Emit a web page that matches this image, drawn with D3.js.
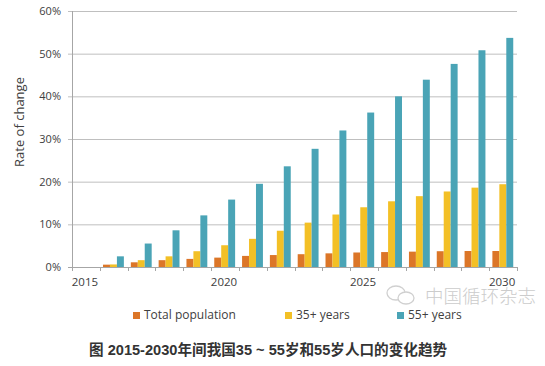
<!DOCTYPE html>
<html><head><meta charset="utf-8">
<script src="https://cdn.jsdelivr.net/npm/d3@7"></script>
<style>body{margin:0;background:#fff}svg{display:block}</style>
</head><body>
<svg id="c" width="545" height="366"></svg>
<script>
const years = ["2015","2016","2017","2018","2019","2020","2021","2022","2023","2024","2025","2026","2027","2028","2029","2030"];
const totalPop = [0,0.55,1.1,1.6,1.9,2.2,2.6,2.8,3.0,3.2,3.4,3.5,3.6,3.7,3.75,3.75];
const age35 = [0,0.6,1.6,2.5,3.7,5.1,6.6,8.5,10.4,12.3,14.0,15.4,16.6,17.7,18.6,19.4];
const age55 = [0,2.5,5.5,8.6,12.1,15.8,19.5,23.6,27.7,32.0,36.2,40.0,43.9,47.6,50.8,53.7];
const seriesNames = ["Total population","35+ years","55+ years"];
const colors = ["#dc7628","#f3c026","#4aa4b6"];
const yTicks = [0,10,20,30,40,50,60];
const xLabels = ["2015","2020","2025","2030"];
const caption = "图 2015-2030年间我国35 ~ 55岁和55岁人口的变化趋势";
const watermark = "中国循环杂志";

const svg = d3.select("#c");
const font = "'Open Sans', 'Liberation Sans', sans-serif";
const L=72, R=517, T=11, B=267;
const x = d3.scaleBand().domain(years).range([L,R]).paddingInner(0).paddingOuter(0);
const y = d3.scaleLinear().domain([0,60]).range([B,T]);
const inner = d3.scaleBand().domain([0,1,2]).range([0,x.bandwidth()]).paddingOuter(0.5).paddingInner(0).align(0.46);

// gridlines
svg.append("g").selectAll("line").data(yTicks.filter(d=>d>0)).join("line")
  .attr("x1",L-4).attr("x2",R).attr("y1",d=>y(d)+0.5).attr("y2",d=>y(d)+0.5)
  .attr("stroke","#bfbfbf").attr("stroke-width",1);
svg.append("line").attr("x1",L-4).attr("x2",L).attr("y1",y(0)+0.5).attr("y2",y(0)+0.5).attr("stroke","#a6a6a6");
// y labels
svg.append("g").selectAll("text").data(yTicks).join("text")
  .attr("x",L-11).attr("y",d=>y(d)+4).attr("text-anchor","end")
  .attr("font-family",font).attr("font-size","11px").attr("fill","#404040")
  .text(d=>d+"%");
// y axis line
svg.append("line").attr("x1",L+0.5).attr("x2",L+0.5).attr("y1",T).attr("y2",B).attr("stroke","#a6a6a6");

// bars
const series = [totalPop, age35, age55];
series.forEach((vals,si)=>{
  svg.append("g").selectAll("rect").data(years.map((yr,i)=>({yr,v:vals[i]})).filter(d=>d.v>0)).join("rect")
    .attr("x",d=>x(d.yr)+inner(si)).attr("width",inner.bandwidth())
    .attr("y",d=>y(d.v)).attr("height",d=>y(0)-y(d.v))
    .attr("fill",colors[si]);
});

// x axis
svg.append("line").attr("x1",L).attr("x2",R).attr("y1",B+0.5).attr("y2",B+0.5).attr("stroke","#a6a6a6");
const bounds = years.map(d=>x(d)).concat([R]);
svg.append("g").selectAll("line").data(bounds).join("line")
  .attr("x1",d=>Math.round(d)+0.5).attr("x2",d=>Math.round(d)+0.5).attr("y1",B).attr("y2",B+4)
  .attr("stroke","#a6a6a6");
svg.append("g").selectAll("text").data(xLabels).join("text")
  .attr("x",d=>x(d)+x.bandwidth()/2-1).attr("y",286).attr("text-anchor","middle")
  .attr("font-family",font).attr("font-size","11.5px").attr("fill","#404040").text(d=>d);

// y title
svg.append("text").attr("transform","translate(24,122) rotate(-90)").attr("text-anchor","middle")
  .attr("font-family",font).attr("font-size","13px").attr("fill","#404040").text("Rate of change");

// legend
const legX = [133,285,397];
const lg = svg.append("g").selectAll("g").data(seriesNames).join("g")
  .attr("transform",(d,i)=>`translate(${legX[i]},0)`);
lg.append("rect").attr("x",0).attr("y",312).attr("width",7).attr("height",7).attr("fill",(d,i)=>colors[i]);
lg.append("text").attr("x",11).attr("y",319).attr("font-family",font).attr("font-size","12px").attr("fill","#404040").text(d=>d);

// watermark
const wm = svg.append("g").attr("fill","none").attr("stroke","#d0d0d0").attr("stroke-width",1.3);
wm.append("ellipse").attr("cx",396).attr("cy",293).attr("rx",9).attr("ry",7);
wm.append("ellipse").attr("cx",406).attr("cy",298).attr("rx",8).attr("ry",6).attr("fill","#fff");
svg.append("text").attr("x",425).attr("y",303).attr("font-family","'Noto Sans CJK SC', sans-serif")
  .attr("font-size","18.5px").attr("fill","#cccccc").attr("font-weight","300").text(watermark);

// caption
svg.append("text").attr("x",89).attr("y",355).attr("font-family","'Liberation Sans', 'Noto Sans CJK SC', sans-serif")
  .attr("font-size","14.6px").attr("font-weight","bold").attr("fill","#333").text(caption);
</script>
</body></html>
